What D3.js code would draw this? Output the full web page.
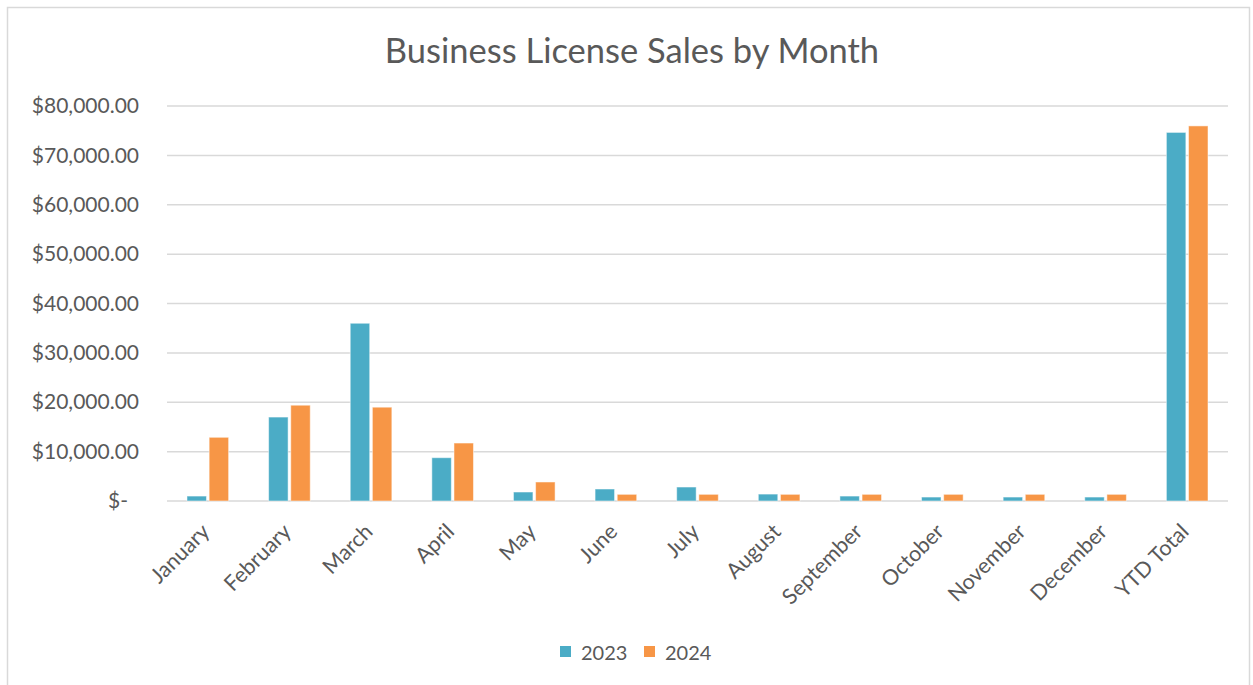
<!DOCTYPE html>
<html><head><meta charset="utf-8">
<script src="https://cdn.jsdelivr.net/npm/d3@7"></script>
<style>body{margin:0;background:#fff}svg{display:block;font-family:Lato,"Open Sans",sans-serif}</style>
</head><body><svg id="c" width="1253" height="685"></svg>
<script>
const categories = ["January","February","March","April","May","June","July","August","September","October","November","December","YTD Total"];
const series = ["2023","2024"];
const values2023 = [1000,17000,36000,8770,1820,2430,2830,1400,1000,800,800,800,74650];
const values2024 = [12900,19400,19000,11740,3850,1350,1350,1350,1350,1350,1350,1350,75970];
const yTicks = [0,10000,20000,30000,40000,50000,60000,70000,80000];
const colors = ["#4BACC6","#F79646"];

(function(){
const svg = d3.select("#c");
svg.append("rect").attr("x",7.5).attr("y",7.5).attr("width",1242).attr("height",700)
  .attr("fill","#fff").attr("stroke","#D9D9D9").attr("stroke-width",1.5);

const pLeft=167, pRight=1228, pTop=106, pBottom=501;
const x = d3.scaleBand().domain(categories).range([pLeft,pRight]).paddingInner(0.49).paddingOuter(0.245);
const xs = d3.scaleBand().domain(series).range([0,x.bandwidth()]).paddingInner(0.12);
const y = d3.scaleLinear().domain([0,80000]).range([pBottom,pTop]);

svg.append("text").attr("x",632).attr("y",63).attr("text-anchor","middle")
  .attr("font-size",34.5).attr("fill","#595959").text("Business License Sales by Month");

const grid = svg.append("g");
grid.selectAll("line").data(yTicks).join("line")
  .attr("x1",pLeft).attr("x2",pRight).attr("y1",d=>y(d)).attr("y2",d=>y(d))
  .attr("stroke","#D9D9D9").attr("stroke-width",1.5);

const yAxis = svg.append("g").attr("transform",`translate(${pLeft},0)`)
  .call(d3.axisLeft(y).tickValues(yTicks).tickSize(0).tickPadding(28)
    .tickFormat(d=> d===0 ? "$-" : "$"+d3.format(",.2f")(d)));
yAxis.select(".domain").remove();
yAxis.selectAll("text").attr("font-size",21).attr("fill","#595959").attr("font-family","Lato,'Open Sans',sans-serif")
  .attr("dx",d=>d===0?-11:0);

const data = categories.map((c,i)=>({c, v:[values2023[i],values2024[i]]}));
const g = svg.append("g");
g.selectAll("g").data(data).join("g").attr("transform",d=>`translate(${x(d.c)},0)`)
  .selectAll("rect").data(d=>d.v.map((v,j)=>({s:series[j],v,j}))).join("rect")
  .attr("x",d=>xs(d.s)).attr("width",xs.bandwidth())
  .attr("y",d=>y(d.v)).attr("height",d=>y(0)-y(d.v))
  .attr("fill",d=>colors[d.j]).attr("stroke","#fff").attr("stroke-opacity",0.5).attr("stroke-width",1);

const xAxis = svg.append("g").attr("transform",`translate(0,${pBottom})`)
  .call(d3.axisBottom(x).tickSize(0).tickPadding(0));
xAxis.select(".domain").remove();
xAxis.selectAll("text").attr("font-size",21.5).attr("fill","#595959").attr("font-family","Lato,'Open Sans',sans-serif")
  .attr("text-anchor","end").attr("dy",0)
  .attr("transform","translate(3,32) rotate(-45)");

const leg = svg.append("g");
const legX=[560,644];
series.forEach((s,i)=>{
  leg.append("rect").attr("x",legX[i]).attr("y",646).attr("width",11).attr("height",11).attr("fill",colors[i]);
  leg.append("text").attr("x",legX[i]+21).attr("y",660).attr("font-size",20).attr("fill","#595959").text(s);
});
})();
</script></body></html>
